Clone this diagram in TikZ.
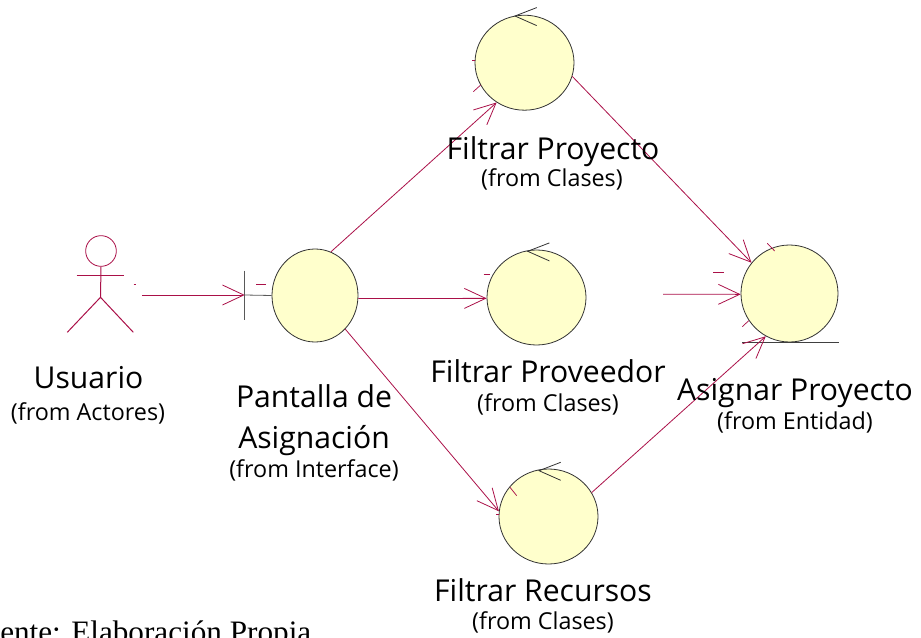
\documentclass[tikz,border=0pt]{standalone}
\usepackage{fontspec}
\setmainfont{Open Sans}
\newfontfamily\captionfont{Liberation Serif}
\usetikzlibrary{arrows.meta,shapes.geometric}
\definecolor{linkred}{RGB}{170,16,72}
\definecolor{bubble}{RGB}{255,255,204}
\tikzset{
  bubblenode/.style 2 args={ellipse,draw=black!80,fill=bubble,line width=0.6pt,inner sep=0pt,
    minimum width=#1*0.75pt,minimum height=#2*0.75pt},
  assoc/.style={linkred,line width=0.6pt,-{Straight Barb[length=16pt,width=15pt]}},
  stub/.style={linkred,line width=0.55pt},
  stickman/.style={linkred,line width=0.75pt},
  markline/.style={black!80,line width=0.6pt},
  titlelbl/.style={font=\fontsize{22.6}{26}\selectfont,inner sep=0pt,anchor=base},
  originlbl/.style={font=\fontsize{17.5}{20}\selectfont,inner sep=0pt,anchor=base}
}
\begin{document}
\begin{tikzpicture}[x=0.75pt,y=-0.75pt]
\useasboundingbox (0,0) rectangle (921,638);

% Bubbles
\node[bubblenode={86}{93}] (pantalla) at (315,295.5) {};
\node[bubblenode={99}{95}] (proyecto) at (524.5,62.7) {};
\node[bubblenode={99}{95}] (proveedor) at (536.5,297.5) {};
\node[bubblenode={99}{95}] (recursos) at (548.5,516.5) {};
\node[bubblenode={97}{97}] (asignar) at (789.5,293.5) {};

% Actor
\node[circle,draw=linkred,line width=0.6pt,minimum size=23pt,inner sep=0pt] (cabeza) at (101,251) {};
\coordinate (cadera) at (100.5,297.3);
\draw[stickman] (cabeza.south) -- (cadera);
\draw[stickman] (76.7,275.3) -- (124,275.3);
\draw[stickman] (67.3,332.3) -- (cadera) -- (133.3,332.3);

% Boundary mark
\coordinate (bordeN) at (244.7,270.7);
\coordinate (bordeS) at (244.7,320);
\coordinate (borde) at (244.7,295);
\draw[markline,black!65] (bordeN) -- (bordeS);
\draw[markline,black!65] (borde) -- (pantalla.west);

% Control marks
\foreach \x/\y in {515/16,527.7/251.3,539/470.7} {
  \draw[markline] (\x+21.7,\y-8.4) -- (\x,\y) -- (\x+21.7,\y+9.6);
}

% Entity underline
\draw[markline,black!75] (742,342.7) -- (838.7,342.7);

% Connectors
\coordinate (actorlink) at (142,295);
\coordinate (entrada) at (663,294.3);
\draw[assoc] (actorlink) -- (borde);
\draw[assoc] (pantalla.70) -- (proyecto.235);
\draw[assoc] (pantalla.-4) -- (proveedor.181);
\draw[assoc] (pantalla.-48.5) -- (recursos.174);
\draw[assoc] (proyecto.-16) -- (asignar.141);
\draw[assoc] (entrada) -- (asignar.181);
\draw[assoc] (recursos.29) -- (asignar.241);

% Small leftovers
\foreach \a/\b/\c/\d in {133.5/284/136/284,256/284/265.7/284,483.7/274.3/490/274.3,
  713/272/723.7/272,767.3/243.3/774.7/251,742.3/326.7/748.7/320.7,
  472.3/60/475/60,473.3/91.7/480.7/85,510/487.3/516.7/495.7,496/514/499/514} {
  \draw[stub] (\a,\b) -- (\c,\d);
}

% Labels
\node[titlelbl] (usuario) at (88.5,388) {Usuario};
\node[originlbl] (usuarioorg) at (88,420) {(from Actores)};
\node[titlelbl] (pantallaA) at (314,407) {Pantalla de};
\node[titlelbl] (pantallaB) at (314,448) {Asignación};
\node[originlbl] (pantallaorg) at (314,477) {(from Interface)};
\node[titlelbl] (proyectolbl) at (553,160) {Filtrar Proyecto};
\node[originlbl] (proyectoorg) at (552,187) {(from Clases)};
\node[titlelbl] (proveedorlbl) at (548,382) {Filtrar Proveedor};
\node[originlbl] (proveedororg) at (548,411) {(from Clases)};
\node[titlelbl] (asignarlbl) at (795,400) {Asignar Proyecto};
\node[originlbl] (asignarorg) at (795,429) {(from Entidad)};
\node[titlelbl] (recursoslbl) at (543,601) {Filtrar Recursos};
\node[originlbl] (recursosorg) at (543,629) {(from Clases)};
\node[font=\captionfont\fontsize{23.4}{26}\selectfont,anchor=base west,inner sep=0pt] (fuente) at (0,642) {ente: Elaboración Propia};
\end{tikzpicture}
\end{document}
